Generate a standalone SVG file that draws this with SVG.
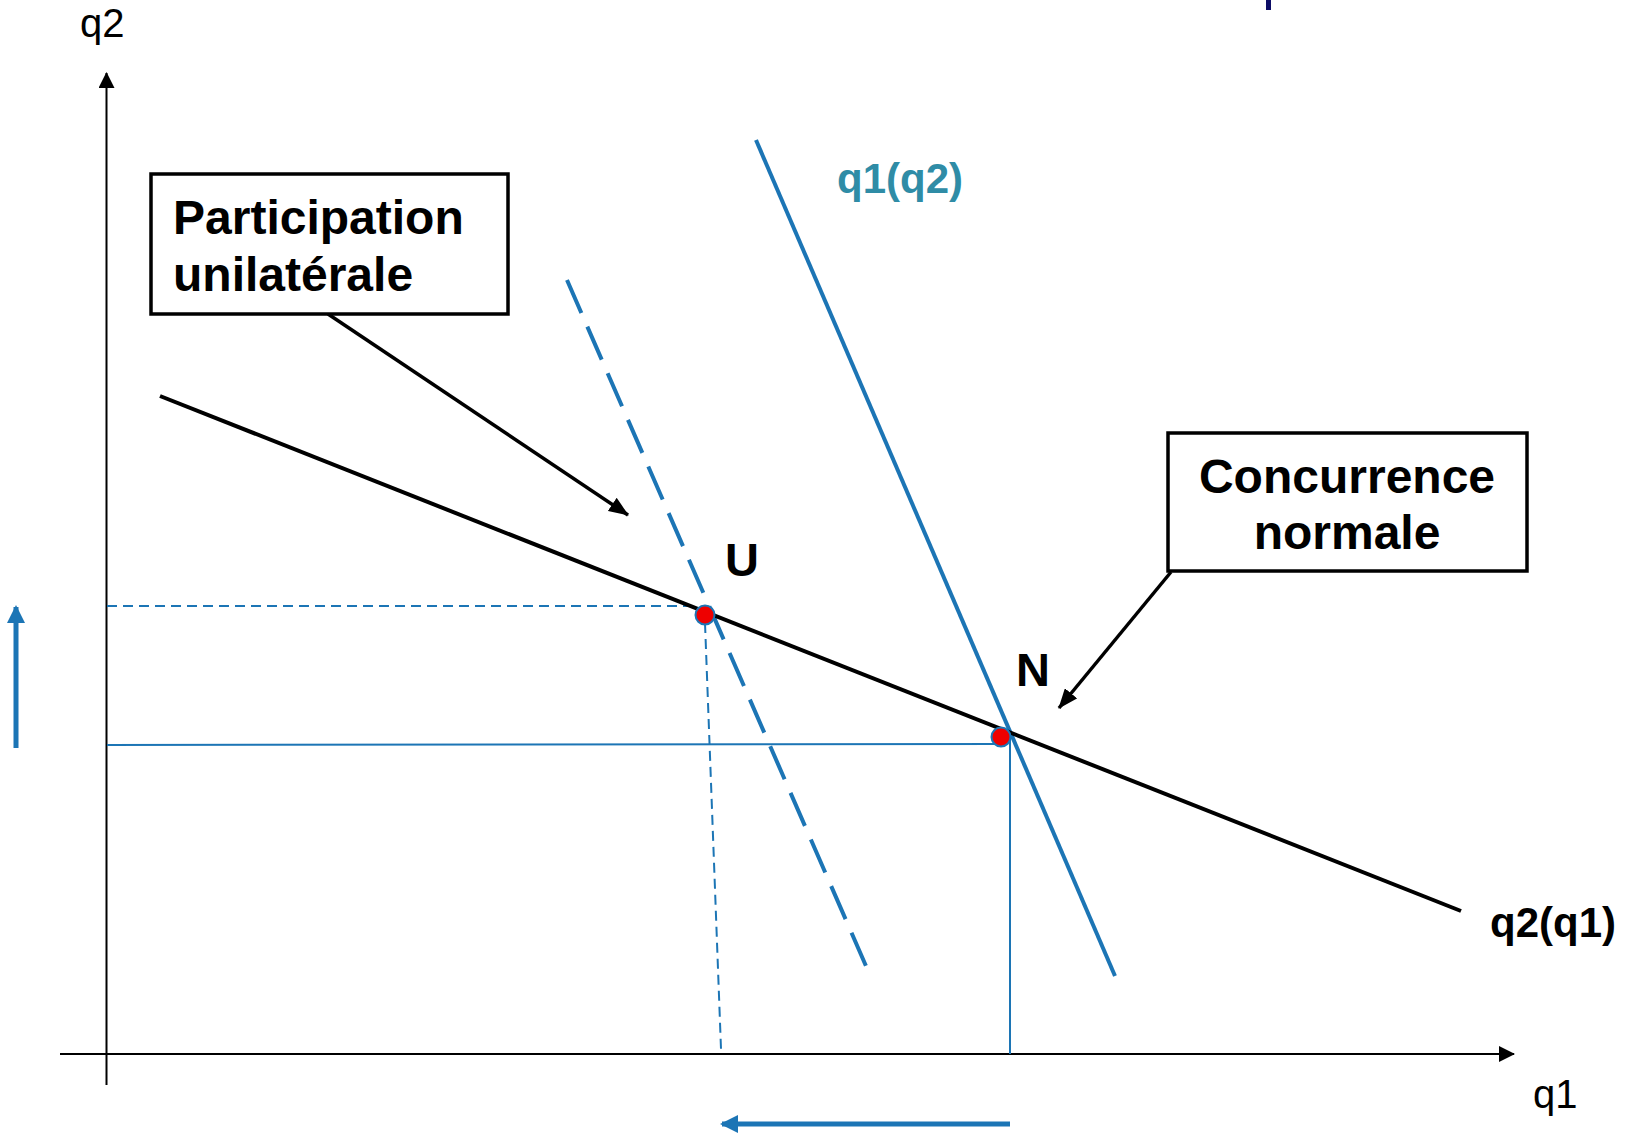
<svg xmlns="http://www.w3.org/2000/svg" width="1628" height="1135" viewBox="0 0 1628 1135">
<style>
.lbl{font-family:"Liberation Sans",Arial,sans-serif;}
.b{font-weight:bold;}
.box{fill:#fff;stroke:#000;stroke-width:3.5;}
.blk{stroke:#000;fill:none;}
.blu{stroke:#1C75B5;fill:none;}
</style>
<defs>
<marker id="ahk" markerWidth="16" markerHeight="16" viewBox="0 0 16 16" refX="15" refY="8" orient="auto" markerUnits="userSpaceOnUse">
<path d="M0,0 L16,8 L0,16 Z" fill="#000"/>
</marker>
<marker id="ahb" markerWidth="18" markerHeight="18" viewBox="0 0 18 18" refX="16" refY="9" orient="auto" markerUnits="userSpaceOnUse">
<path d="M0,0 L18,9 L0,18 Z" fill="#1C75B5"/>
</marker>
<marker id="ahp" markerWidth="20" markerHeight="16" viewBox="0 0 20 16" refX="19" refY="8" orient="auto" markerUnits="userSpaceOnUse">
<path d="M0,0 L20,8 L0,16 Z" fill="#000"/>
</marker>
</defs>
<rect width="1628" height="1135" fill="#fff"/>
<rect x="1266" y="0" width="5" height="10" fill="#0D0D66"/>
<g id="connectors">
<line class="blk" x1="106.5" y1="1085" x2="106.5" y2="73" stroke-width="2" marker-end="url(#ahk)"/>
<line class="blk" x1="60" y1="1054" x2="1514" y2="1054" stroke-width="2" marker-end="url(#ahk)"/>
<line class="blu" x1="107" y1="606" x2="698" y2="606" stroke-width="2" stroke-dasharray="10,6"/>
<line class="blu" x1="705" y1="623" x2="721" y2="1049" stroke-width="2" stroke-dasharray="10,6"/>
<line class="blu" x1="107" y1="745" x2="1002" y2="744" stroke-width="2"/>
<line class="blu" x1="1010" y1="737" x2="1010" y2="1054" stroke-width="2"/>
<line class="blu" x1="567" y1="280" x2="866" y2="966" stroke-width="4" stroke-dasharray="36,14.86"/>
<line class="blu" x1="756" y1="140" x2="1115" y2="976" stroke-width="4"/>
<line class="blk" x1="160" y1="396" x2="1461" y2="911" stroke-width="4"/>
<line class="blk" x1="328" y1="314" x2="628" y2="515" stroke-width="3.5" marker-end="url(#ahp)"/>
<line class="blk" x1="1171" y1="572" x2="1059" y2="708" stroke-width="3.5" marker-end="url(#ahp)"/>
<line class="blu" x1="1010" y1="1124" x2="722" y2="1124" stroke-width="5" marker-end="url(#ahb)"/>
<line class="blu" x1="16" y1="748" x2="16" y2="607" stroke-width="5" marker-end="url(#ahb)"/>
</g>
<g id="pointU">
<circle cx="705" cy="615" r="9.5" fill="#EE0000" stroke="#1C75B5" stroke-width="2"/>
<text class="lbl b" x="742" y="576" font-size="47" text-anchor="middle">U</text>
</g>
<g id="pointN">
<circle cx="1001" cy="737" r="9.5" fill="#EE0000" stroke="#1C75B5" stroke-width="2"/>
<text class="lbl b" x="1033" y="686" font-size="47" text-anchor="middle">N</text>
</g>
<g id="boxParticipation">
<rect class="box" x="151" y="174" width="357" height="140"/>
<text class="lbl b" x="173" y="234" font-size="48">Participation</text>
<text class="lbl b" x="173" y="291" font-size="48">unilatérale</text>
</g>
<g id="boxConcurrence">
<rect class="box" x="1168" y="433" width="359" height="138"/>
<text class="lbl b" x="1347" y="493" font-size="48" text-anchor="middle">Concurrence</text>
<text class="lbl b" x="1347" y="549" font-size="48" text-anchor="middle">normale</text>
</g>
<g id="labels">
<text class="lbl" x="80" y="37" font-size="40">q2</text>
<text class="lbl" x="1533" y="1108" font-size="40">q1</text>
<text class="lbl b" x="837" y="193" font-size="42" fill="#2F8CA6">q1(q2)</text>
<text class="lbl b" x="1490" y="937" font-size="42">q2(q1)</text>
</g>
</svg>
